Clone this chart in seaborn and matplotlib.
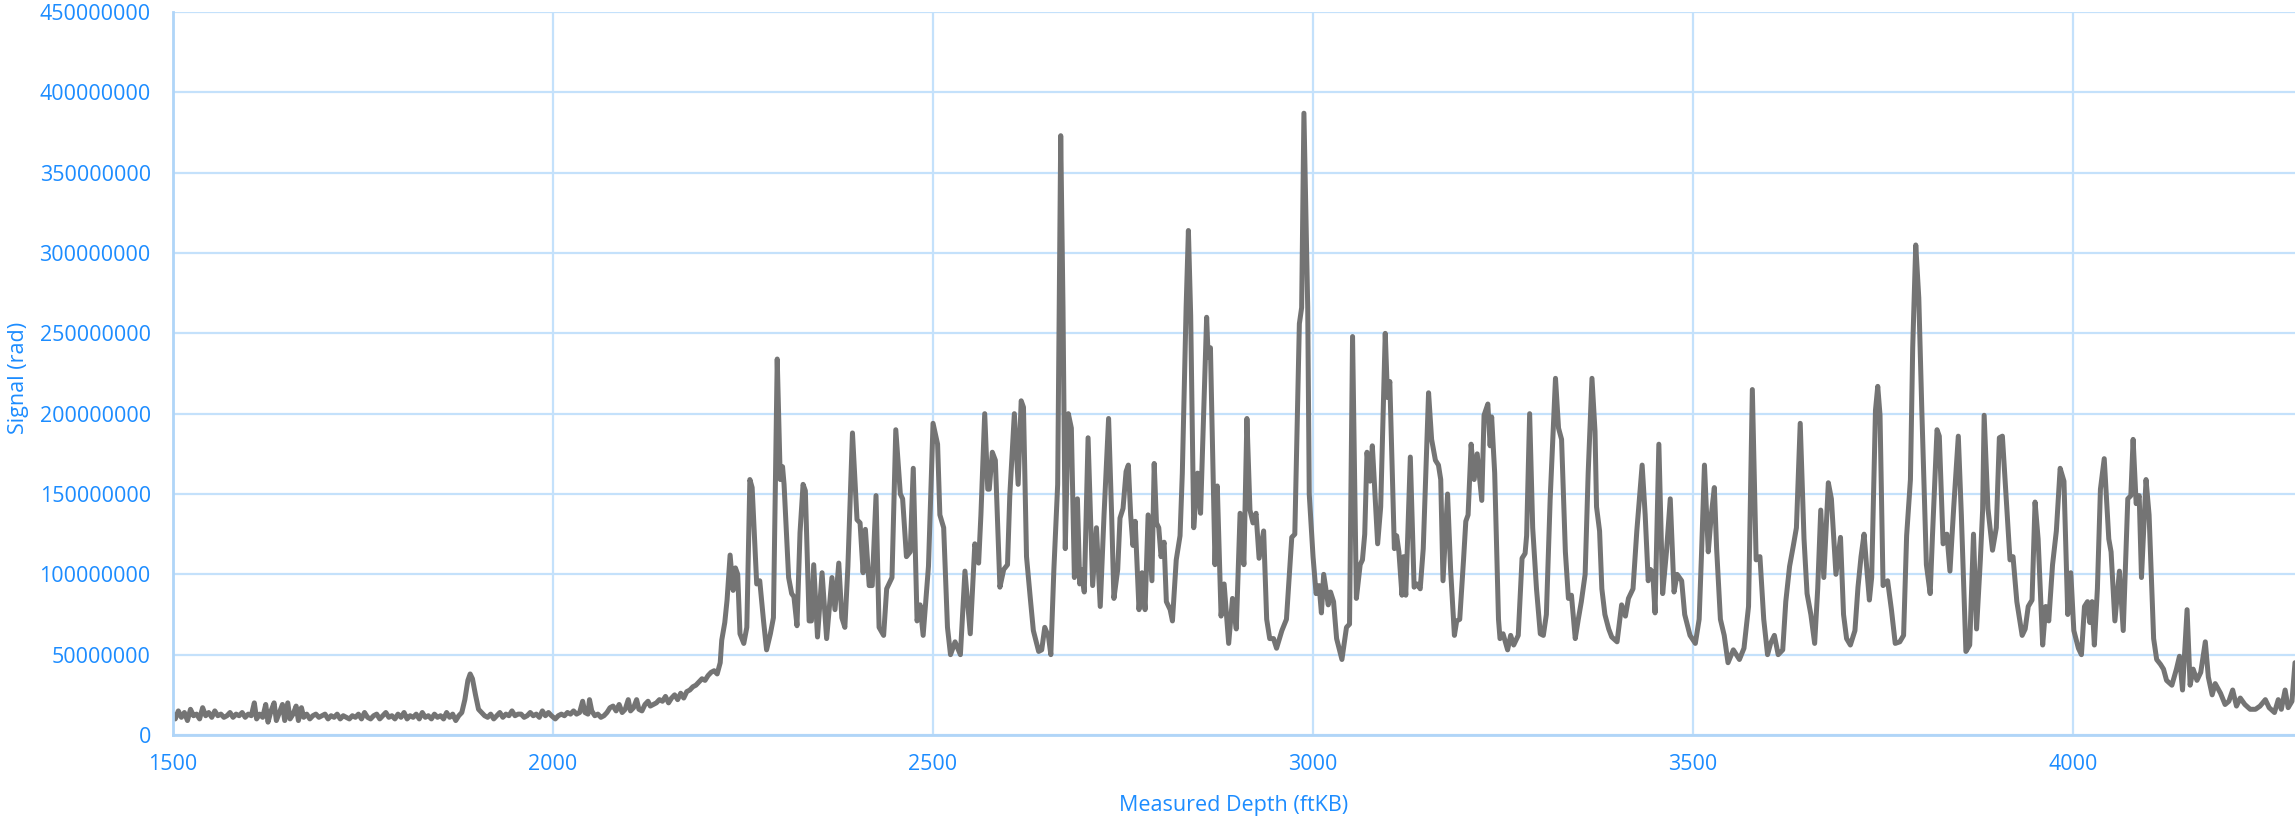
import numpy as np
import pandas as pd
import matplotlib
matplotlib.use("Agg")
import matplotlib.pyplot as plt
from matplotlib.ticker import FuncFormatter, MultipleLocator
import seaborn as sns

# Measured depth (ftKB) and signal (millions of rad)
depth_ft = [
    1500,1503,1507,1511,1515,1519,1523,1527,1531,1535,1539,1543,1547,1551,1555,1559,1563,1567,1571,1575,
    1579,1583,1587,1591,1595,1599,1603,1607,1610,1614,1618,1622,1625,1629,1633,1636,1640,1644,1647,1651,
    1654,1658,1662,1665,1669,1672,1676,1680,1684,1688,1692,1696,1700,1704,1708,1712,1716,1720,1724,1728,
    1732,1736,1740,1744,1748,1752,1756,1760,1764,1768,1772,1776,1780,1784,1788,1792,1796,1800,1804,1808,
    1812,1816,1820,1824,1828,1832,1836,1840,1844,1848,1852,1856,1860,1864,1868,1872,1876,1880,1884,1888,
    1891,1894,1898,1902,1906,1910,1914,1918,1922,1926,1930,1934,1938,1942,1946,1950,1954,
    1958,1962,1966,1970,1974,1978,1982,1986,1990,1994,1998,2003,2007,
    2011,2015,2019,2023,2027,2031,2035,2039,2042,2046,2048,2051,2055,2059,2063,2067,2071,
    2075,2079,2083,2087,2091,2095,2099,2102,2106,2110,2113,2117,2121,2125,2128,2132,2136,2140,2144,2148,
    2152,2156,2160,2164,2168,2172,2176,
    2180,2184,2188,2192,2196,2200,2204,2208,2212,2216,2220,
    2222,2226,2229,2233,2237,2240,2243,2246,2251,2255,2259,2262,2268,2272,2277,2281,2286,2290,2295,2299,
    2302,2304,2310,2314,2317,2321,2325,2329,2332,2337,2340,2343,2348,2354,2360,2367,2371,2376,2380,2384,
    2388,2394,2400,2404,
    2408,2411,2416,2420,2425,2429,2435,2439,2446,2451,2457,2460,2465,2470,2474,2479,2483,2487,2494,2500,
    2506,2509,2514,2519,2523,2529,2536,2542,2549,2555,2560,2563,2568,2572,2574,2578,2582,2588,2593,2598,
    2601,2607,2612,2616,2619,2623,2628,2632,2639,2643,2647,2652,2655,2659,2664,2668,2671,2674,2678,2682,
    2686,2690,2693,2695,2699,2704,2710,2715,2720,
    2725,2731,2735,2738,2743,2746,2750,2754,2757,2760,2763,2766,2771,2775,2779,2783,2788,2791,2794,2797,
    2800,2804,2807,2812,2815,2820,2825,2828,2833,2836,2839,2843,2848,2852,2857,2860,2862,2865,2869,2871,
    2874,2879,2883,2889,2894,2899,2904,2909,2913,2917,2921,2925,2929,2935,2939,2943,2948,2952,2959,2965,
    2972,2976,2982,2985,2988,2993,2995,3000,3004,3008,3011,3014,3020,3023,3027,3031,3038,
    3044,3048,3052,3057,3062,3065,3068,3071,3075,3078,3080,3085,3089,3095,3098,3101,3107,3110,3113,3117,
    3119,3122,3128,3133,3137,3141,3145,3152,3156,3161,3165,3168,3171,3177,3181,3186,3189,3193,3198,3201,
    3204,3208,3212,3216,3222,3225,3230,3233,3235,3239,3244,3246,3250,3256,3260,3264,3270,3275,3279,3281,
    3285,3289,3294,3299,3303,3307,3312,3319,3323,3327,3332,3336,3340,3345,3349,3353,
    3358,3362,3367,3371,3373,3377,3380,3384,3389,3393,3400,3406,3411,3415,3421,3426,3433,3437,3441,3444,
    3447,3450,3455,3460,3465,3470,3475,3479,3485,3489,3496,3503,3508,3511,3515,3520,3524,3528,3531,3536,
    3541,3546,3553,3561,3567,3573,3578,3583,3588,3593,3598,3602,3607,3612,3618,3622,3627,3632,3636,3641,
    3646,3650,3655,3660,3664,3668,3672,
    3678,3682,3688,3694,3698,3702,3707,3713,3717,3721,3725,3729,3732,3735,3740,3743,3746,3750,3756,3761,
    3766,3772,3777,3781,3786,3789,3793,3797,3801,3807,3812,3815,3821,3824,3829,3834,3838,3843,3849,3853,
    3859,3864,3869,3873,3878,3881,3883,3888,3892,3894,3899,3903,3907,3912,3917,3921,3926,3933,3937,3941,
    3946,3950,3954,3960,3964,3968,3973,3978,3983,3988,
    3993,3997,4001,4007,4011,4015,4019,4022,4025,4028,4032,4036,4041,4047,4050,4055,4061,4066,4072,4076,
    4079,4083,4087,4090,4096,4100,4106,4110,4115,4119,4123,4130,4136,4140,4144,4150,4154,4158,4163,4168,
    4174,4178,4183,4187,4194,4200,4205,4210,4215,4220,4226,4233,4240,4246,4253,4258,4265,4270,4274,4279,
    4283,4288,4292,
]

signal_m = [
    13,10,15,11,14,9,16,12,13,10,17,12,14,11,15,12,13,11,12,14,
    11,13,12,14,11,13,12,20,10,13,11,19,8,15,20,9,14,19,9,20,
    10,13,18,9,17,11,13,10,12,13,11,12,13,10,12,11,13,10,12,11,
    10,12,11,13,10,14,11,10,12,13,10,12,14,11,12,10,13,11,14,10,
    12,11,13,10,14,11,12,10,13,11,12,10,14,11,13,9,12,14,22,34,
    38,35,25,16,14,12,11,13,10,12,14,11,13,12,15,12,13,
    13,11,12,14,12,13,11,15,12,14,12,10,12,
    13,12,14,13,15,13,14,21,14,13,22,15,12,13,11,12,14,
    17,18,15,19,14,16,22,15,17,22,16,15,19,21,18,19,20,22,21,24,
    20,23,25,22,26,23,27,
    28,30,31,33,35,34,37,39,40,38,45,
    59,70,84,112,90,104,100,63,57,67,159,154,94,96,71,53,63,73,234,159,
    167,156,98,88,86,68,126,156,152,71,71,106,61,101,60,98,78,107,73,67,
    105,188,134,132,
    101,128,93,93,149,67,62,91,98,190,150,147,111,114,166,71,81,62,105,194,
    181,137,129,67,50,58,50,102,63,119,107,137,200,153,153,176,171,92,103,106,
    149,200,156,208,204,111,85,65,52,53,67,61,50,103,156,373,266,116,200,191,
    98,147,94,103,89,185,93,129,80,
    137,197,137,85,103,135,141,164,168,137,118,133,78,101,78,137,96,169,132,129,
    111,120,83,78,71,109,124,163,266,314,261,129,163,138,215,260,235,241,150,106,
    155,74,94,57,85,66,138,106,197,140,132,138,110,127,72,60,60,54,65,72,
    123,125,256,266,387,266,150,111,88,93,76,100,81,89,83,60,47,
    67,69,248,85,106,109,125,176,158,180,163,119,142,250,210,220,116,124,114,87,
    111,87,173,92,94,91,116,213,184,171,168,159,96,150,103,62,71,72,109,133,
    137,181,159,175,146,199,206,180,198,163,72,60,63,53,62,56,62,110,113,124,
    200,129,91,63,62,75,147,222,191,184,114,85,87,60,72,83,
    100,163,222,189,142,127,91,75,66,61,58,81,74,85,91,127,168,137,96,103,
    101,76,181,88,114,147,89,100,96,75,62,57,72,111,168,114,137,154,116,72,
    62,45,53,47,54,80,215,109,111,72,50,57,62,50,53,83,105,118,129,194,
    122,88,75,57,91,140,98,
    157,147,100,123,75,60,56,65,92,111,125,101,84,98,202,217,199,93,96,78,
    57,58,62,124,159,241,305,272,202,106,88,124,190,186,119,125,102,142,186,137,
    52,56,125,66,109,140,199,141,124,115,129,185,186,147,109,111,83,62,66,80,
    84,145,122,56,80,71,106,127,166,158,
    75,101,65,54,50,80,83,70,83,56,91,153,172,122,114,71,102,65,147,149,
    184,144,149,98,159,137,60,47,44,41,34,31,41,49,28,78,31,41,34,39,
    58,36,25,32,26,19,21,28,18,23,19,16,16,18,22,17,14,22,16,28,
    17,21,45,
]

x_ticks = [1500, 2000, 2500, 3000, 3500, 4000]
y_max = 450000000
y_step = 50000000
x_label = "Measured Depth (ftKB)"
y_label = "Signal (rad)"

df = pd.DataFrame({"depth": depth_ft, "signal": np.array(signal_m, dtype=float) * 1e6})

sns.set_theme(style="white")
plt.rcParams["font.family"] = ["Open Sans", "DejaVu Sans"]

blue_text = "#1c8cff"
grid_col = "#c4e1fb"
spine_col = "#b0d5f8"

fig = plt.figure(figsize=(22.95, 8.22), dpi=100)
ax = fig.add_axes([173 / 2295, 1 - 735 / 822, 1 - 173 / 2295, (735 - 12) / 822])

sns.lineplot(data=df, x="depth", y="signal", ax=ax, color="#747474",
             linewidth=3.6, estimator=None, sort=False,
             solid_joinstyle="round", solid_capstyle="round")

ax.set_xlim(1500, 4292)
ax.set_ylim(0, y_max)
ax.set_xticks(x_ticks)
ax.yaxis.set_major_locator(MultipleLocator(y_step))
ax.yaxis.set_major_formatter(FuncFormatter(lambda v, p: f"{int(round(v))}"))

ax.grid(True, color=grid_col, linewidth=1.6)
ax.set_axisbelow(True)
for s in ["top", "right"]:
    ax.spines[s].set_visible(False)
for s in ["left", "bottom"]:
    ax.spines[s].set_color(spine_col)
    ax.spines[s].set_linewidth(2)

ax.tick_params(axis="both", length=0, labelsize=15.5, labelcolor=blue_text)
ax.tick_params(axis="y", pad=16)
ax.tick_params(axis="x", pad=14)

ax.set_xlabel(x_label, fontsize=15.5, color=blue_text)
ax.set_ylabel(y_label, fontsize=15.5, color=blue_text)
ax.xaxis.set_label_coords(0.5, -0.083)
ax.yaxis.set_label_coords(-0.068, 0.494)

fig.savefig("out.png", dpi=100)
